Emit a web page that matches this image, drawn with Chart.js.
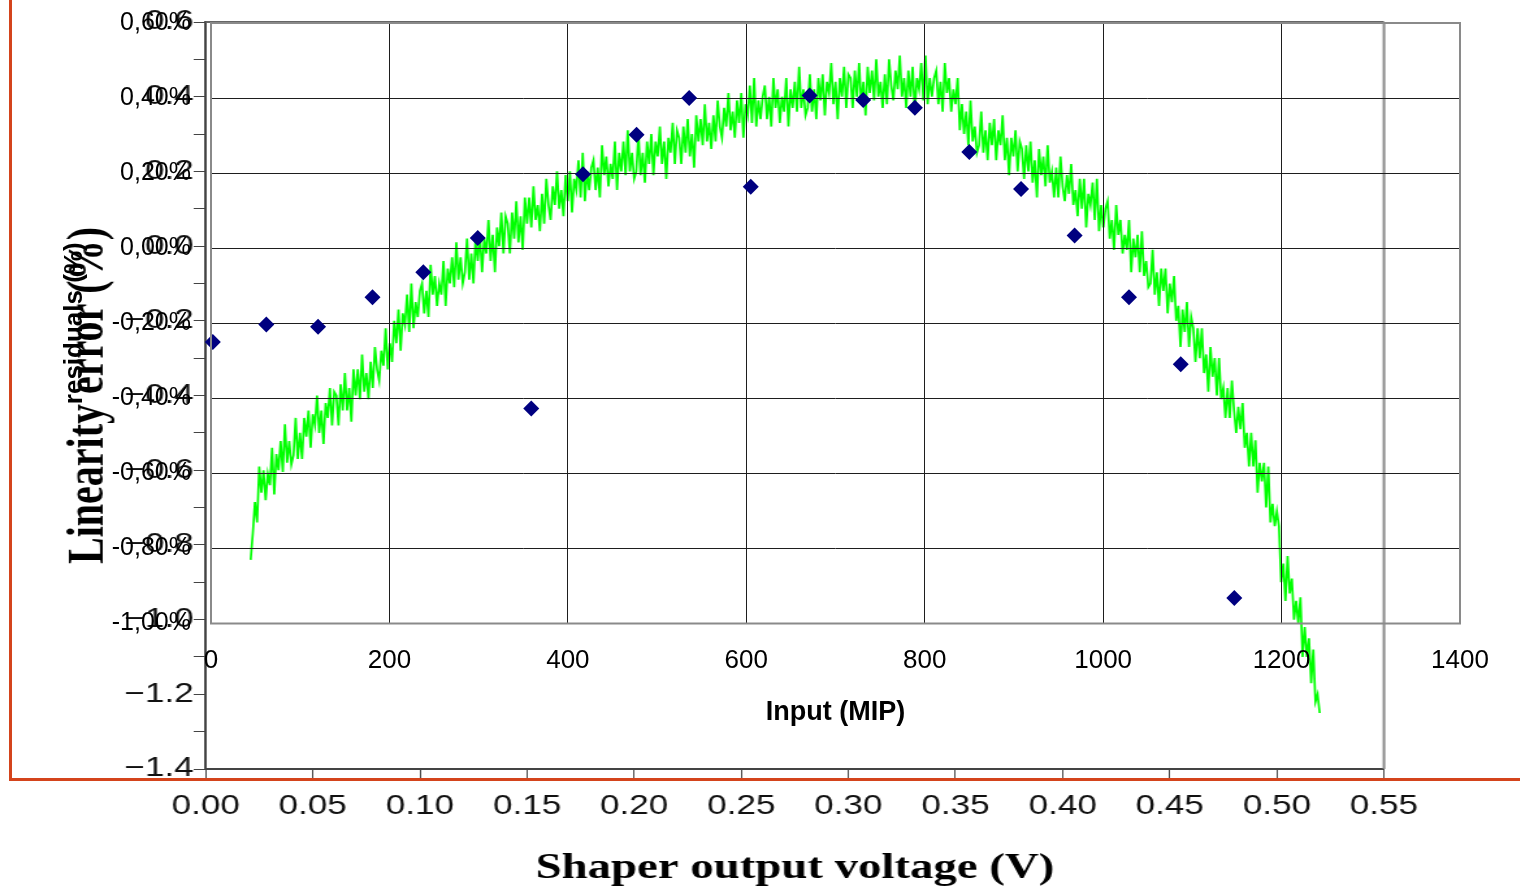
<!DOCTYPE html>
<html>
<head>
<meta charset="utf-8">
<script src="https://cdn.jsdelivr.net/npm/chart.js@4.4.1/dist/chart.umd.min.js"></script>
<style>
  html, body { margin: 0; padding: 0; background: #fff; overflow: hidden; }
  #stage { position: relative; width: 1520px; height: 892px; overflow: hidden; }
  /* the voltage plot in the original is stretched sideways */
  #back { position: absolute; left: 0; top: 0; width: 1169px; height: 892px; transform: scaleX(1.3); transform-origin: 0 0; }
  #frame { position: absolute; left: 9px; top: -3px; width: 1520px; height: 781px;
           border-left: 3px solid #d4441c; border-bottom: 3px solid #d4441c; }
  #mipChart { position: absolute; left: 0; top: 0; }
</style>
</head>
<body>
<div id="stage">
  <div id="back"><canvas id="voltChart" width="1169" height="892"></canvas></div>
  <div id="frame"></div>
  <canvas id="mipChart" width="1520" height="892"></canvas>
</div>
<script>
// linearity error (%) sampled every 1 mV of shaper output voltage, from 21 mV
const voltStart = 0.021;
const voltStep = 0.001;
const linearityError = [
  -0.84, -0.77, -0.685, -0.74, -0.59, -0.66, -0.60, -0.68, -0.61, -0.64, -0.54, -0.665, -0.557, -0.60, -0.522, -0.605, -0.477, -0.58, -0.522, -0.585,
  -0.56, -0.46, -0.57, -0.50, -0.57, -0.46, -0.51, -0.44, -0.54, -0.45, -0.48, -0.40, -0.50, -0.44, -0.53, -0.42, -0.46, -0.38, -0.48, -0.39,
  -0.40, -0.48, -0.37, -0.44, -0.34, -0.44, -0.38, -0.47, -0.33, -0.40, -0.33, -0.41, -0.29, -0.39, -0.34, -0.41, -0.31, -0.38, -0.27, -0.33,
  -0.36, -0.28, -0.32, -0.22, -0.33, -0.26, -0.31, -0.20, -0.26, -0.17, -0.28, -0.18, -0.21, -0.13, -0.23, -0.10, -0.22, -0.15, -0.19, -0.12,
  -0.10, -0.18, -0.12, -0.19, -0.05, -0.13, -0.08, -0.16, -0.10, -0.13, -0.04, -0.16, -0.06, -0.10, -0.03, -0.11, 0.01, -0.09, -0.03, -0.10,
  -0.07, 0.02, -0.09, -0.02, -0.10, 0.02, -0.04, 0.03, -0.07, 0.02, -0.02, 0.07, -0.04, 0.03, -0.07, 0.05, 0.00, 0.09, -0.02, 0.08,
  0.06, -0.02, 0.09, 0.02, 0.12, 0.01, 0.08, -0.01, 0.13, 0.06, 0.13, 0.05, 0.16, 0.07, 0.11, 0.04, 0.14, 0.06, 0.18, 0.11,
  0.07, 0.16, 0.11, 0.20, 0.10, 0.15, 0.08, 0.19, 0.12, 0.20, 0.09, 0.18, 0.15, 0.23, 0.13, 0.25, 0.12, 0.20, 0.15, 0.21,
  0.23, 0.15, 0.21, 0.13, 0.27, 0.19, 0.24, 0.16, 0.22, 0.18, 0.28, 0.15, 0.25, 0.20, 0.28, 0.19, 0.31, 0.20, 0.25, 0.18,
  0.20, 0.30, 0.19, 0.25, 0.17, 0.28, 0.22, 0.30, 0.19, 0.28, 0.24, 0.32, 0.22, 0.28, 0.18, 0.29, 0.25, 0.33, 0.22, 0.31,
  0.29, 0.22, 0.32, 0.25, 0.34, 0.24, 0.30, 0.21, 0.35, 0.28, 0.34, 0.27, 0.38, 0.28, 0.33, 0.26, 0.35, 0.28, 0.39, 0.32,
  0.29, 0.37, 0.32, 0.41, 0.31, 0.36, 0.29, 0.39, 0.33, 0.41, 0.29, 0.38, 0.35, 0.43, 0.33, 0.45, 0.32, 0.39, 0.34, 0.40,
  0.43, 0.34, 0.40, 0.32, 0.45, 0.37, 0.42, 0.33, 0.40, 0.36, 0.45, 0.32, 0.42, 0.37, 0.44, 0.36, 0.48, 0.37, 0.42, 0.35,
  0.37, 0.46, 0.36, 0.42, 0.34, 0.45, 0.39, 0.46, 0.35, 0.44, 0.41, 0.49, 0.38, 0.44, 0.34, 0.45, 0.40, 0.48, 0.37, 0.46,
  0.45, 0.37, 0.47, 0.40, 0.49, 0.38, 0.44, 0.35, 0.48, 0.41, 0.47, 0.39, 0.50, 0.40, 0.44, 0.37, 0.46, 0.38, 0.50, 0.43,
  0.39, 0.47, 0.42, 0.51, 0.40, 0.45, 0.37, 0.47, 0.40, 0.48, 0.36, 0.45, 0.42, 0.49, 0.39, 0.51, 0.38, 0.45, 0.40, 0.45,
  0.47, 0.38, 0.44, 0.36, 0.49, 0.41, 0.45, 0.36, 0.42, 0.38, 0.45, 0.31, 0.38, 0.30, 0.36, 0.27, 0.39, 0.28, 0.32, 0.25,
  0.27, 0.36, 0.25, 0.31, 0.23, 0.33, 0.27, 0.34, 0.23, 0.31, 0.27, 0.35, 0.23, 0.29, 0.19, 0.29, 0.24, 0.31, 0.20, 0.28,
  0.26, 0.18, 0.27, 0.20, 0.28, 0.17, 0.23, 0.13, 0.26, 0.19, 0.24, 0.16, 0.27, 0.17, 0.20, 0.13, 0.21, 0.13, 0.24, 0.16,
  0.12, 0.19, 0.14, 0.22, 0.11, 0.15, 0.08, 0.18, 0.10, 0.18, 0.05, 0.14, 0.11, 0.17, 0.07, 0.18, 0.04, 0.11, 0.05, 0.10,
  0.12, 0.02, 0.07, -0.01, 0.11, 0.03, 0.07, -0.02, 0.03, -0.01, 0.07, -0.07, 0.02, -0.03, 0.03, -0.07, 0.04, -0.08, -0.04, -0.11,
  -0.10, -0.01, -0.13, -0.07, -0.16, -0.06, -0.12, -0.06, -0.18, -0.10, -0.15, -0.08, -0.20, -0.16, -0.27, -0.17, -0.23, -0.15, -0.27, -0.19,
  -0.22, -0.31, -0.22, -0.30, -0.22, -0.34, -0.29, -0.39, -0.27, -0.35, -0.30, -0.40, -0.30, -0.41, -0.38, -0.46, -0.38, -0.46, -0.36, -0.44,
  -0.50, -0.43, -0.49, -0.42, -0.54, -0.50, -0.59, -0.50, -0.59, -0.52, -0.66, -0.58, -0.63, -0.58, -0.70, -0.59, -0.74, -0.69, -0.75, -0.71,
  -0.75, -0.90, -0.85, -0.95, -0.83, -0.93, -0.89, -1.00, -0.95, -1.01, -0.94, -1.10, -1.02, -1.10, -1.05, -1.17, -1.08, -1.22, -1.20, -1.25
];

// residuals (%) against input charge (MIP)
const mipInput = [2, 62, 120, 181, 238, 299, 359, 417, 477, 536, 605, 671, 731, 789, 850, 908, 968, 1029, 1087, 1147];
const residuals = [-0.250, -0.203, -0.209, -0.131, -0.064, 0.027, -0.427, 0.197, 0.302, 0.400,
                   0.164, 0.407, 0.395, 0.374, 0.256, 0.158, 0.034, -0.131, -0.309, -0.932];

const sans = "'Liberation Sans', Arial, sans-serif";
const serif = "'Liberation Serif', 'Times New Roman', serif";

const fmtVolt = v => v.toFixed(2);
const fmtErr = v => {
  if (Math.round(v * 10) % 2 !== 0) return '';
  if (Math.abs(v) < 1e-9) return '0.0';
  return v < 0 ? '\u2212' + Math.abs(v).toFixed(1) : v.toFixed(1);
};
const fmtPct = v => (Math.abs(v) < 1e-9 ? 0 : v).toFixed(2).replace('.', ',') + '%';
const fmtMip = v => String(v);

const voltFrame = {
  id: 'voltFrame',
  afterDraw(chart) {
    const { ctx, chartArea: a } = chart;
    ctx.save();
    ctx.lineWidth = 2;
    ctx.strokeStyle = '#666';
    ctx.beginPath(); ctx.moveTo(a.left, a.top); ctx.lineTo(a.right, a.top); ctx.stroke();
    ctx.strokeStyle = '#888';
    ctx.beginPath(); ctx.moveTo(a.right, a.top); ctx.lineTo(a.right, a.bottom); ctx.stroke();
    ctx.restore();
  }
};

const mipFrame = {
  id: 'mipFrame',
  afterDraw(chart) {
    const { ctx, chartArea: a } = chart;
    ctx.save();
    ctx.lineWidth = 2;
    ctx.strokeStyle = '#8a8a8a';
    ctx.strokeRect(a.left, a.top, a.right - a.left, a.bottom - a.top);
    ctx.restore();
  }
};

new Chart(document.getElementById('voltChart'), {
  type: 'line',
  data: {
    datasets: [{
      data: linearityError.map((y, i) => ({ x: voltStart + i * voltStep, y })),
      borderColor: '#00ff00',
      borderWidth: 1.7,
      pointRadius: 0,
      tension: 0
    }]
  },
  options: {
    responsive: false,
    animation: false,
    devicePixelRatio: 1,
    layout: { padding: { top: 22, right: 104.4, left: 0, bottom: 0 } },
    plugins: { legend: { display: false }, tooltip: { enabled: false } },
    scales: {
      x: {
        type: 'linear', min: 0, max: 0.55,
        ticks: { stepSize: 0.05, callback: fmtVolt, font: { family: sans, size: 27 }, color: '#111', padding: 10, maxRotation: 0, autoSkip: false },
        grid: { drawOnChartArea: false, drawTicks: true, tickLength: 11, tickColor: '#444' },
        border: { color: '#444', width: 2 },
        title: { display: true, text: 'Shaper output voltage (V)', font: { family: serif, size: 36, weight: 'bold' }, color: '#000', padding: { bottom: 2 } },
        afterFit: s => { s.height = 123; }
      },
      y: {
        min: -1.4, max: 0.6,
        ticks: { stepSize: 0.1, callback: fmtErr, font: { family: sans, size: 27 }, color: '#111', padding: 0, autoSkip: false },
        grid: { drawOnChartArea: false, drawTicks: true, tickLength: 9.2, tickColor: '#444' },
        border: { color: '#444', width: 2 },
        title: { display: true, text: 'Linearity error (%)', font: { family: serif, size: 40, weight: 'bold' }, color: '#000', padding: { top: 45 } },
        afterFit: s => { s.width = 158.2; }
      }
    }
  },
  plugins: [voltFrame]
});

new Chart(document.getElementById('mipChart'), {
  type: 'scatter',
  data: {
    datasets: [{
      data: mipInput.map((x, i) => ({ x, y: residuals[i] })),
      pointStyle: 'rectRot',
      pointRadius: 8,
      backgroundColor: '#000080',
      borderColor: '#000080',
      borderWidth: 0,
      clip: false
    }]
  },
  options: {
    responsive: false,
    animation: false,
    devicePixelRatio: 1,
    layout: { padding: { top: 23, right: 60, left: 0, bottom: 0 } },
    plugins: { legend: { display: false }, tooltip: { enabled: false } },
    scales: {
      x: {
        min: 0, max: 1400,
        ticks: { stepSize: 200, callback: fmtMip, font: { family: sans, size: 26 }, color: '#000', padding: 0, maxRotation: 0 },
        grid: { color: '#1e1e1e', lineWidth: 1, drawTicks: true, tickLength: 22, tickColor: 'rgba(0,0,0,0)' },
        border: { display: false },
        title: { display: true, text: 'Input (MIP)', font: { family: sans, size: 27, weight: 'bold' }, color: '#000', padding: { bottom: 163 } },
        afterFit: s => { s.height = 268.5; }
      },
      y: {
        min: -1.0, max: 0.6,
        ticks: { stepSize: 0.2, callback: fmtPct, font: { family: sans, size: 25 }, color: '#000', padding: 0 },
        grid: { color: '#1e1e1e', lineWidth: 1, drawTicks: true, tickLength: 20, tickColor: 'rgba(0,0,0,0)' },
        border: { display: false },
        title: { display: true, text: 'residuals (%)', font: { family: sans, size: 26, weight: 'bold' }, color: '#000', padding: { top: 59 } },
        afterFit: s => { s.width = 211; }
      }
    }
  },
  plugins: [mipFrame]
});
</script>
</body>
</html>
